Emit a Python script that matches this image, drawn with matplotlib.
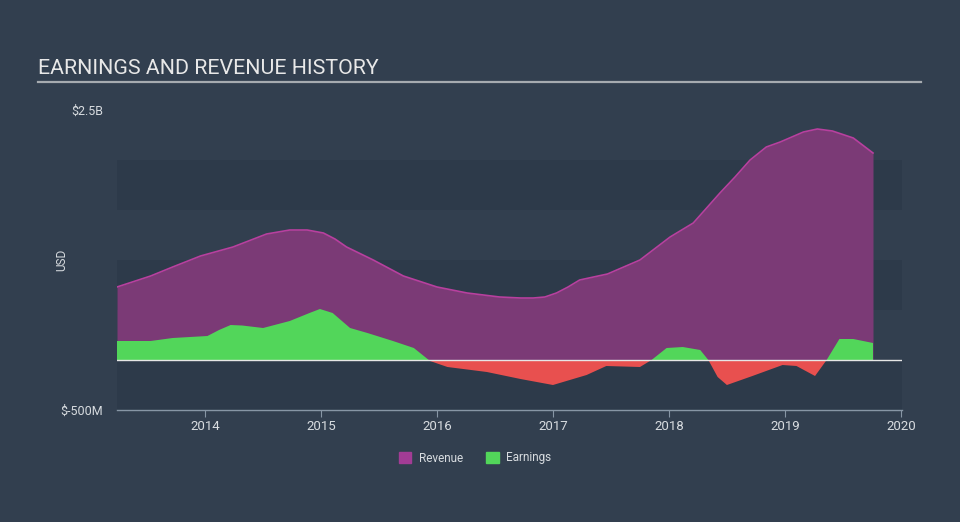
import matplotlib.pyplot as plt
from matplotlib.patches import Patch

plt.rcParams["font.family"] = ["Roboto", "DejaVu Sans"]

# values in USD millions
rev_year = [2013.24, 2013.53, 2013.72, 2013.96, 2014.24, 2014.53, 2014.73, 2014.88,
            2015.02, 2015.12, 2015.22, 2015.45, 2015.71, 2016.0, 2016.26, 2016.54,
            2016.72, 2016.83, 2016.93, 2017.03, 2017.13, 2017.23, 2017.47, 2017.75,
            2018.01, 2018.21, 2018.44, 2018.57, 2018.70, 2018.84, 2018.96, 2019.16,
            2019.28, 2019.41, 2019.59, 2019.76]
revenue = [730, 840, 930, 1040, 1130, 1260, 1300, 1300,
           1270, 1210, 1130, 1000, 840, 730, 670, 630,
           620, 620, 630, 670, 730, 800, 860, 1000,
           1230, 1370, 1670, 1830, 2000, 2130, 2180, 2280,
           2310, 2290, 2220, 2070]

earn_year = [2013.24, 2013.53, 2013.72, 2014.02, 2014.12, 2014.22, 2014.32, 2014.5,
             2014.73, 2014.90, 2014.99, 2015.10, 2015.25, 2015.4, 2015.62, 2015.8,
             2015.94, 2016.09, 2016.43, 2016.72, 2017.0, 2017.29, 2017.46, 2017.75,
             2017.85, 2017.98, 2018.12, 2018.27, 2018.34, 2018.42, 2018.5, 2018.72,
             2018.98, 2019.1, 2019.26, 2019.36, 2019.47, 2019.59, 2019.76]
earnings = [190, 190, 220, 240, 300, 350, 345, 320,
            390, 470, 510, 470, 320, 270, 190, 120,
            -10, -70, -120, -190, -250, -150, -60, -70,
            0, 120, 130, 100, 0, -170, -250, -160,
            -50, -60, -160, 0, 210, 210, 170]

years = [2014, 2015, 2016, 2017, 2018, 2019, 2020]

bg = "#323f4f"
band = "#2d3a4a"
rev_fill = "#7b3a76"
rev_line = "#b8409f"
green = "#52d65a"
red = "#e8504f"
txt = "#d8dce0"

fig = plt.figure(figsize=(9.6, 5.22), dpi=100, facecolor=bg)
ax = fig.add_axes([117 / 960, 112 / 522, 785 / 960, 300 / 522])
ax.set_facecolor(bg)

ax.set_xlim(2013.24, 2020.01)
ax.set_ylim(-500, 2500)

# alternating horizontal bands
for lo in (-500, 500, 1500):
    ax.axhspan(lo, lo + 500, color=band, zorder=0, lw=0)

ax.fill_between(rev_year, 0, revenue, color=rev_fill, lw=0, zorder=1)
ax.plot(rev_year, revenue, color=rev_line, lw=1.2, zorder=2)

ax.fill_between(earn_year, 0, earnings, where=[e >= 0 for e in earnings],
                interpolate=True, color=green, lw=0, zorder=3)
ax.fill_between(earn_year, 0, earnings, where=[e <= 0 for e in earnings],
                interpolate=True, color=red, lw=0, zorder=3)

ax.axhline(0, color="#e6e6e6", lw=1, zorder=4)

for s in ("top", "right", "left"):
    ax.spines[s].set_visible(False)
ax.spines["bottom"].set_color("#8796a5")
ax.spines["bottom"].set_linewidth(1)

ax.set_xticks(years)
ax.set_xticklabels([str(y) for y in years])
ax.tick_params(axis="x", colors="#8796a5", labelcolor=txt, labelsize=9.5, length=5, pad=2)
ax.set_yticks([-500, 2500])
ax.set_yticklabels(["$-500M", "$2.5B"])
ax.tick_params(axis="y", length=0, labelcolor=txt, labelsize=9, pad=10)

fig.text(62 / 960, 1 - 260 / 522, "USD", rotation=90, color=txt, fontsize=8.5,
         ha="center", va="center")

fig.text(38 / 960, 1 - 68 / 522, "EARNINGS AND REVENUE HISTORY", color="#e8e8e8",
         fontsize=15.4, ha="left", va="center")
fig.add_artist(plt.Line2D([38 / 960, 921 / 960], [1 - 82 / 522, 1 - 82 / 522],
                          color="#a6abb0", lw=1.6))

handles = [Patch(color="#a23c95", label="Revenue"), Patch(color=green, label="Earnings")]
fig.legend(handles=handles, loc="center", bbox_to_anchor=(475 / 960, 1 - 458 / 522),
           ncol=2, frameon=False, fontsize=8.5, labelcolor=txt, handlelength=1.1,
           handleheight=1.1, columnspacing=2.0, handletextpad=0.6)

fig.savefig("out.png", dpi=100, facecolor=bg)
